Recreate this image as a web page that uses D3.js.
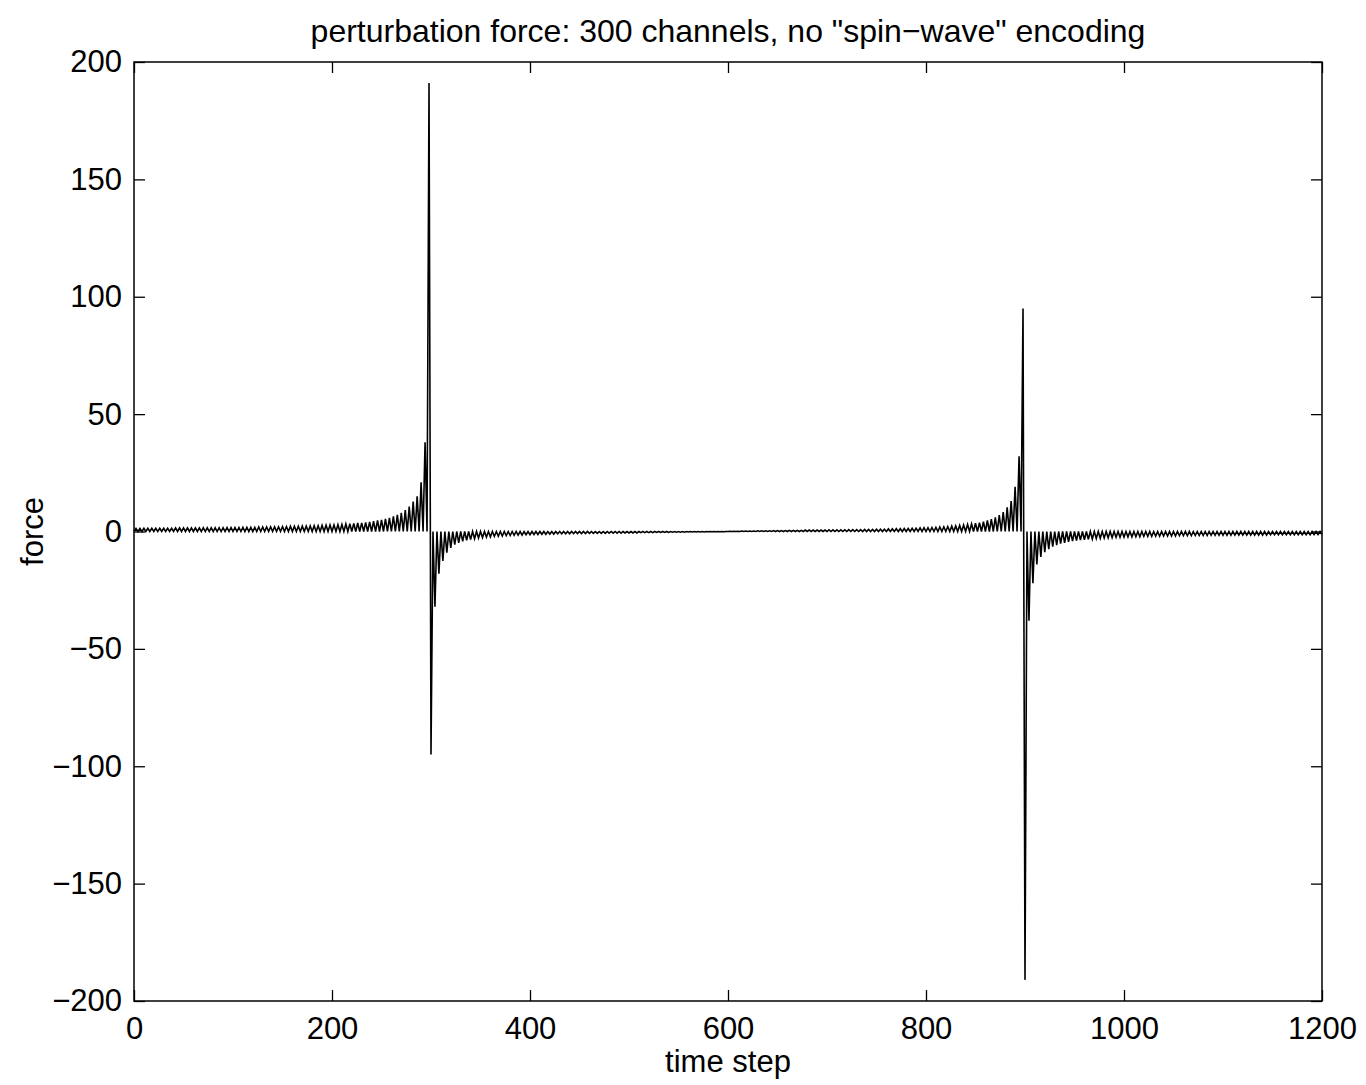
<!DOCTYPE html>
<html>
<head>
<meta charset="utf-8">
<script src="https://cdn.jsdelivr.net/npm/d3@7"></script>
<style>
  html, body { margin: 0; padding: 0; background: #fff; }
  svg { display: block; font-family: "Liberation Sans", Arial, Helvetica, sans-serif; }
</style>
</head>
<body>
<svg id="chart" width="1366" height="1085"></svg>
<script>
// ---------------- data ----------------
const titleText = 'perturbation force: 300 channels, no "spin\u2212wave" encoding';
const xLabelText = "time step";
const yLabelText = "force";
const xTicks = [0, 200, 400, 600, 800, 1000, 1200];
const yTicks = [-200, -150, -100, -50, 0, 50, 100, 150, 200];
const xDomain = [0, 1200];
const yDomain = [-200, 200];

// sample spacing of the plotted trace (the trace returns to the 0 baseline between pulses)
const sampleStep = 2;
const pulseStride = 4;

// positive pulses growing towards the first spike, steps 2, 6, ..., 294
const rise1Start = 2;
const rise1 = [1.3,1.3,1.4,1.4,1.4,1.4,1.4,1.4,1.4,1.4,
  1.5,1.5,1.5,1.5,1.5,1.5,1.5,
  1.6,1.6,1.6,1.6,1.6,1.6,
  1.7,1.7,1.7,1.7,
  1.8,1.8,1.8,1.8,
  1.9,1.9,1.9,
  2.0,2.0,2.0,
  2.1,2.1,
  2.2,2.2,2.2,
  2.3,2.3,
  2.4,
  2.5,2.5,
  2.6,2.7,2.8,2.8,2.9,3.0,
  3.2,3.3,3.4,3.6,3.7,3.9,4.1,4.4,4.7,5.0,5.4,5.8,6.4,7.1,7.9,9.1,10.6,12.8,15,21,38];

// first spike: steps 298, 300
const spike1Steps = [298, 300];
const spike1 = [191, -95];

// negative pulses decaying after the first spike, steps 304, 308, ..., 596
const decay1Start = 304;
const decay1 = [-32,-18,-12.5,-9,-7,-5.6,-4.8,-4.2,-3.8,-3.4,-3.1,-2.8,-2.6,-2.4,-2.3,-2.1,-2.0,-1.9,-1.8,-1.7,
  -1.6,-1.5,-1.5,-1.4,-1.4,-1.3,-1.3,-1.2,-1.2,-1.1,-1.1,-1.0,-1.0,-1.0,-1.0,-0.9,-0.9,-0.9,-0.9,
  -0.8,-0.8,-0.8,-0.8,-0.8,-0.7,
  -0.7,-0.7,-0.7,-0.6,-0.6,-0.6,-0.6,-0.5,-0.5,-0.5,-0.5,-0.4,-0.4,-0.4,-0.4,
  -0.3,-0.3,-0.3,-0.3,-0.2,-0.2,-0.2,-0.2,-0.2,-0.1,-0.1,-0.1,-0.1,-0.1];

// positive pulses growing towards the second spike, steps 602, 606, ..., 894
const rise2Start = 602;
const rise2 = [0.1,0.1,0.1,0.2,0.2,0.2,0.2,0.3,0.3,0.3,0.3,0.4,0.4,0.4,0.4,0.5,0.5,0.5,0.5,
  0.6,0.6,0.6,0.6,0.6,0.6,
  0.7,0.7,0.7,0.7,0.7,
  0.8,0.8,0.8,0.8,
  0.9,0.9,0.9,
  1.0,1.0,1.0,
  1.1,1.1,
  1.2,1.2,
  1.3,1.3,
  1.4,1.4,
  1.5,
  1.6,1.6,
  1.7,1.8,1.9,2.0,2.1,2.3,2.4,2.6,2.8,3.0,3.2,3.5,3.8,4.2,4.7,5.3,6.0,7.0,8.3,10.3,13,19,32];

// second spike: steps 898, 900
const spike2Steps = [898, 900];
const spike2 = [95, -191];

// negative pulses decaying after the second spike, steps 904, 908, ..., 1200
const decay2Start = 904;
const decay2 = [-38,-22,-14,-10.8,-8.8,-7.5,-6.5,-5.8,-5.2,-4.8,-4.4,-4.1,-3.9,-3.7,-3.5,-3.3,-3.2,-3.0,-2.9,-2.8,
  -2.7,-2.6,-2.5,-2.5,-2.4,-2.3,-2.3,-2.2,-2.2,-2.1,-2.1,-2.1,-2.0,-2.0,-1.9,-1.9,-1.9,-1.9,
  -1.8,-1.8,-1.8,-1.8,-1.7,-1.7,-1.7,-1.7,-1.6,-1.6,-1.6,-1.6,-1.6,-1.6,
  -1.5,-1.5,-1.5,-1.5,-1.5,-1.5,-1.5,-1.5,-1.5,
  -1.4,-1.4,-1.4,-1.4,-1.4,-1.4,-1.4,-1.4,-1.4,-1.4,-1.4,
  -1.3,-1.3,-1.3];

// ---------------- assemble the trace ----------------
const pulseMap = new Map();
function addRun(start, values) { values.forEach((v, i) => pulseMap.set(start + i * pulseStride, v)); }
function addList(steps, values) { steps.forEach((s, i) => pulseMap.set(s, values[i])); }
addRun(rise1Start, rise1);
addList(spike1Steps, spike1);
addRun(decay1Start, decay1);
addRun(rise2Start, rise2);
addList(spike2Steps, spike2);
addRun(decay2Start, decay2);

const trace = d3.range(xDomain[0], xDomain[1] + 1, sampleStep)
  .map(t => ({ t, v: pulseMap.has(t) ? pulseMap.get(t) : 0 }));

// ---------------- drawing ----------------
const W = 1366, H = 1085;
const margin = { left: 134, right: 44, top: 62, bottom: 84 };
const plotW = W - margin.left - margin.right;   // 1188
const plotH = H - margin.top - margin.bottom;   // 939

const svg = d3.select("#chart");
svg.append("rect").attr("width", W).attr("height", H).attr("fill", "#fff");

const g = svg.append("g").attr("transform", `translate(${margin.left},${margin.top})`);

const x = d3.scaleLinear().domain(xDomain).range([0, plotW]);
const y = d3.scaleLinear().domain(yDomain).range([plotH, 0]);

const fontSize = 31;
const tickLen = 11;

// trace
const line = d3.line().x(d => x(d.t)).y(d => y(d.v));
g.append("path")
  .datum(trace)
  .attr("fill", "none")
  .attr("stroke", "#000")
  .attr("stroke-width", 1.6)
  .attr("stroke-linejoin", "miter")
  .attr("d", line);

// axes
function styleAxis(sel, showLabels) {
  sel.select(".domain").remove();
  sel.selectAll(".tick line").attr("stroke", "#000").attr("stroke-width", 1.3);
  sel.selectAll(".tick text")
    .attr("fill", "#000")
    .style("font-size", fontSize + "px")
    .style("font-family", '"Liberation Sans", Arial, Helvetica, sans-serif');
  if (!showLabels) sel.selectAll(".tick text").remove();
}

g.append("g").attr("transform", `translate(0,${plotH})`)
  .call(d3.axisBottom(x).tickValues(xTicks).tickSize(-tickLen).tickPadding(16).tickFormat(d3.format("d")))
  .call(s => styleAxis(s, true));
g.append("g")
  .call(d3.axisTop(x).tickValues(xTicks).tickSize(-tickLen))
  .call(s => styleAxis(s, false));
g.append("g")
  .call(d3.axisLeft(y).tickValues(yTicks).tickSize(-tickLen).tickPadding(12))
  .call(s => styleAxis(s, true));
g.append("g").attr("transform", `translate(${plotW},0)`)
  .call(d3.axisRight(y).tickValues(yTicks).tickSize(-tickLen))
  .call(s => styleAxis(s, false));

// frame
g.append("rect")
  .attr("x", 0).attr("y", 0).attr("width", plotW).attr("height", plotH)
  .attr("fill", "none").attr("stroke", "#000").attr("stroke-width", 1.5);

// title and labels
svg.append("text")
  .attr("x", margin.left + plotW / 2).attr("y", 42)
  .attr("text-anchor", "middle")
  .style("font-size", "32px")
  .text(titleText);

svg.append("text")
  .attr("x", margin.left + plotW / 2).attr("y", 1072)
  .attr("text-anchor", "middle")
  .style("font-size", fontSize + "px")
  .text(xLabelText);

svg.append("text")
  .attr("transform", `translate(43,${margin.top + y(0)}) rotate(-90)`)
  .attr("text-anchor", "middle")
  .style("font-size", fontSize + "px")
  .text(yLabelText);
</script>
</body>
</html>
